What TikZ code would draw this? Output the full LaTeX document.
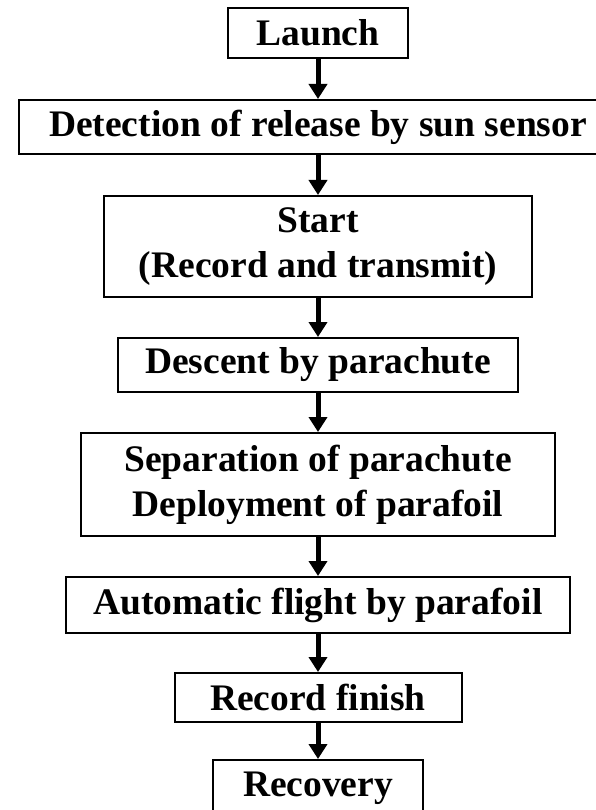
\documentclass[tikz,border=0pt]{standalone}
\usepackage{fontspec}
\setmainfont{Liberation Serif}
\usetikzlibrary{arrows.meta}

\begin{document}
\begin{tikzpicture}[x=1pt, y=-1pt,
	etapa/.style={draw, line width=2pt, inner sep=0pt, align=center, font=\fontsize{37.5}{45}\selectfont\bfseries},
	flecha/.style={line width=5pt, -{Triangle[width=18pt,length=15pt]}}]
	\useasboundingbox (0,0) rectangle (596,810);
	\clip (0,0) rectangle (596,810);
	
	\node[etapa, minimum width=180pt, minimum height=50pt] (launch) at (318,33) {Launch};
	\node[etapa, minimum width=598pt, minimum height=54pt] (detect) at (318,127) {Detection of release by sun sensor};
	\node[etapa, minimum width=428pt, minimum height=101pt] (start) at (318,246.5) {Start\\(Record and transmit)};
	\node[etapa, minimum width=400pt, minimum height=54pt] (descent) at (318,365) {Descent by parachute};
	\node[etapa, minimum width=474pt, minimum height=103pt] (separa) at (318,484.5) {Separation of parachute\\Deployment of parafoil};
	\node[etapa, minimum width=504pt, minimum height=56pt] (auto) at (318,605) {Automatic flight by parafoil};
	\node[etapa, minimum width=287pt, minimum height=49pt] (finish) at (318,697.5) {Record finish};
	\node[etapa, minimum width=210pt, minimum height=56pt] (recover) at (318,788) {Recovery};
	
	\draw[flecha] (launch) -- (detect);
	\draw[flecha] (detect) -- (start);
	\draw[flecha] (start) -- (descent);
	\draw[flecha] (descent) -- (separa);
	\draw[flecha] (separa) -- (auto);
	\draw[flecha] (auto) -- (finish);
	\draw[flecha] (finish) -- (recover);
\end{tikzpicture}
\end{document}
